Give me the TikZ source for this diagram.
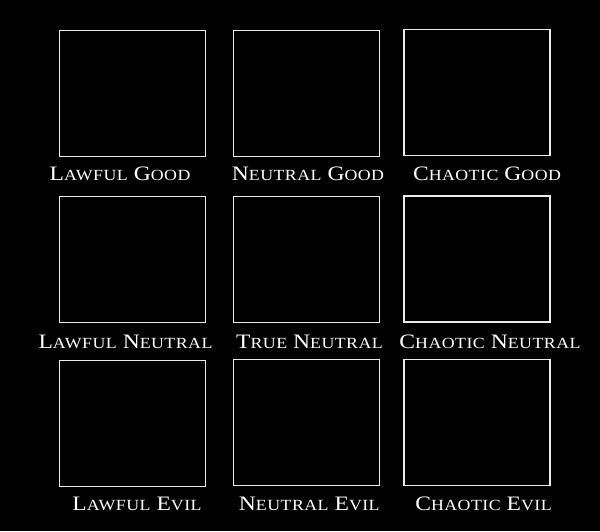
\documentclass[tikz,border=0pt]{standalone}
\usepackage{fontspec}
\newfontfamily\trajfont[FakeStretch=1.15,LetterSpace=3]{Liberation Serif}
\newcommand\trajB[1]{{\fontsize{20.5}{20.5}\selectfont #1}}
\newcommand\trajS[1]{{\fontsize{15.5}{15.5}\selectfont #1}}
\newcommand\trajSp{\hspace{6pt}}
\begin{document}
\begin{tikzpicture}[x=1pt,y=-1pt,
  panel/.style={draw=white!92!black, line width=1.5pt, minimum width=146pt, minimum height=126pt, inner sep=0pt, outer sep=0pt},
  lbl/.style={text=white, anchor=base, inner sep=0pt, font=\trajfont}]
\fill[black] (0,0) rectangle (600,531);
\useasboundingbox (0,0) rectangle (600,531);
% row 1
\node[panel] (lg) at (132.5,93.5) {};
\node[panel] (ng) at (306.7,93.5) {};
\node[panel] (cg) at (477.2,92.5) {};
% row 2
\node[panel] (ln) at (132.5,259.5) {};
\node[panel] (tn) at (306.7,259.5) {};
\node[panel] (cn) at (477.2,259) {};
% row 3
\node[panel] (le) at (132.5,423.3) {};
\node[panel] (ne) at (306.7,422.7) {};
\node[panel] (ce) at (477.2,422.7) {};
% labels
\node[lbl] (tlg) at (120,180) {\trajB{L}\trajS{AWFUL}\trajSp\trajB{G}\trajS{OOD}};
\node[lbl] (tng) at (308,180) {\trajB{N}\trajS{EUTRAL}\trajSp\trajB{G}\trajS{OOD}};
\node[lbl] (tcg) at (487,180) {\trajB{C}\trajS{HAOTIC}\trajSp\trajB{G}\trajS{OOD}};
\node[lbl] (tln) at (125.5,348) {\trajB{L}\trajS{AWFUL}\trajSp\trajB{N}\trajS{EUTRAL}};
\node[lbl] (ttn) at (309.5,348) {\trajB{T}\trajS{RUE}\trajSp\trajB{N}\trajS{EUTRAL}};
\node[lbl] (tcn) at (490,348) {\trajB{C}\trajS{HAOTIC}\trajSp\trajB{N}\trajS{EUTRAL}};
\node[lbl] (tle) at (137,510) {\trajB{L}\trajS{AWFUL}\trajSp\trajB{E}\trajS{VIL}};
\node[lbl] (tne) at (309.3,510) {\trajB{N}\trajS{EUTRAL}\trajSp\trajB{E}\trajS{VIL}};
\node[lbl] (tce) at (483.5,510) {\trajB{C}\trajS{HAOTIC}\trajSp\trajB{E}\trajS{VIL}};
\end{tikzpicture}
\end{document}
